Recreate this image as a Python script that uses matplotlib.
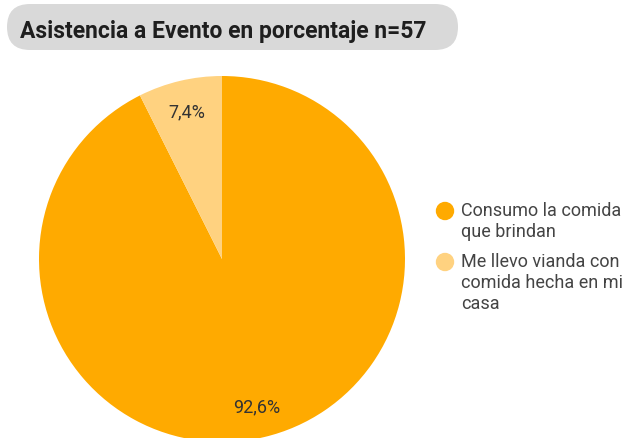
import numpy as np
import matplotlib
matplotlib.use('Agg')
import matplotlib.pyplot as plt
from matplotlib.patches import FancyBboxPatch, Circle

title = 'Asistencia a Evento en porcentaje n=57'
labels = ['Consumo la comida\nque brindan', 'Me llevo vianda con\ncomida hecha en mi\ncasa']
values = [92.6, 7.4]
colors = ['#FFAA00', '#FFD280']

W, H = 625, 439
fig = plt.figure(figsize=(W / 100, H / 100), dpi=100, facecolor='white')
ax = fig.add_axes([0, 0, 1, 1])

# title pill
box = FancyBboxPatch((7 + 23, H - 51 + 23), 451 - 46, 0,
                     boxstyle='round,pad=23,rounding_size=23',
                     fc='#D9D9D9', ec='none')
ax.add_patch(box)
ax.text(20, H - 31, title, fontsize=16.5, fontweight='bold', family='Roboto',
        color='#1E1E1E', va='center', ha='left')

# pie
wedges, _, autotexts = ax.pie(values, colors=colors, startangle=90, counterclock=False,
                              center=(222, H - 260), radius=183,
                              autopct=lambda p: f'{p:.1f}%'.replace('.', ','),
                              pctdistance=0.83, frame=True,
                              textprops=dict(fontsize=13, family='Roboto', color='#333333'))
ax.set_xlim(0, W)
ax.set_ylim(0, H)
ax.set_aspect('equal')
ax.axis('off')

# legend
ly = [H - 212, H - 263]
for i, lab in enumerate(labels):
    ax.add_patch(Circle((445, ly[i]), 8.5, color=colors[i]))
    ax.text(461, ly[i] + 10, lab, fontsize=13, family='Roboto', color='#444444',
            va='top', ha='left', linespacing=1.2)

plt.savefig('out.png', dpi=100)
